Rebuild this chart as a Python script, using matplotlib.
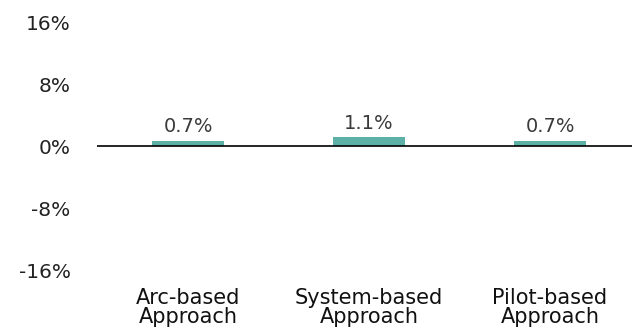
import matplotlib
matplotlib.use("Agg")
import matplotlib.pyplot as plt

categories = ["Arc-based\nApproach", "System-based\nApproach", "Pilot-based\nApproach"]
values = [0.7, 1.1, 0.7]
labels = ["0.7%", "1.1%", "0.7%"]
yticks = [-16, -8, 0, 8, 16]

plt.rcParams['font.family'] = ['DejaVu Sans']

fig = plt.figure(figsize=(6.32, 3.33), dpi=100)
ax = fig.add_axes([97 / 632, 63 / 333, 535 / 632, 248 / 333])

x = range(len(categories))
ax.bar(x, values, width=0.4, color="#5cb0a6", zorder=2)
ax.axhline(0, color="black", lw=1.2, zorder=3)

for xi, v, lab in zip(x, values, labels):
    ax.annotate(lab, (xi, v), xytext=(0, 6), textcoords="offset points",
                ha="center", va="baseline", fontsize=14, color="#3a3a3a")

ax.set_xlim(-0.503, 2.453)
ax.set_ylim(-16, 16)
ax.set_yticks(yticks)
ax.set_yticklabels([f"{t}%" for t in yticks], fontsize=14.5, color="#222222")
ax.set_xticks(list(x))
ax.set_xticklabels(categories, fontsize=15, color="#111111", linespacing=0.92)
ax.tick_params(axis="both", length=0)
ax.tick_params(axis="x", pad=13)
ax.tick_params(axis="y", pad=19)
for s in ax.spines.values():
    s.set_visible(False)

fig.savefig("out.png", dpi=100)
